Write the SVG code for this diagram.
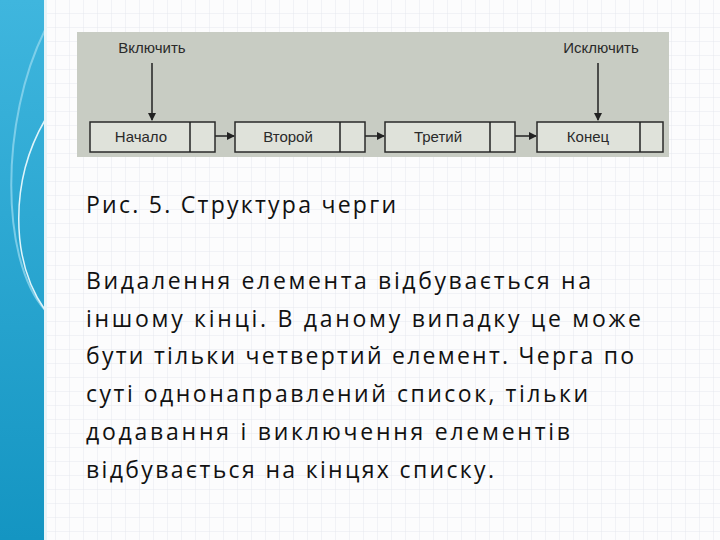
<svg xmlns="http://www.w3.org/2000/svg" width="720" height="540" viewBox="0 0 720 540">
<defs>
<pattern id="grid" width="14" height="14" patternUnits="userSpaceOnUse"><path d="M14 0V14H0" fill="none" stroke="#e6e9ee" stroke-width="1"/></pattern>
<linearGradient id="bar" x1="0" y1="0" x2="0" y2="1"><stop offset="0" stop-color="#3fb6de"/><stop offset="1" stop-color="#1495c2"/></linearGradient>
<marker id="ah" markerWidth="8" markerHeight="8" refX="7" refY="4" orient="auto" markerUnits="userSpaceOnUse"><path d="M0 0L8 4L0 8Z" fill="#222"/></marker>
<style>
.lbl{font-family:"Liberation Sans",Arial,sans-serif;font-size:15px;fill:#2a2a2a;text-anchor:middle}
.box{fill:#dfe2da;stroke:#2a2a2a;stroke-width:1.5}
.ln{stroke:#222;stroke-width:1.5;fill:none}
.body{font-family:"Open Sans",Lato,sans-serif;font-size:23px;fill:#111}
</style>
</defs>
<rect width="720" height="540" fill="#fcfcfd"/>
<rect width="720" height="540" fill="url(#grid)"/>
<rect x="0" y="0" width="45" height="540" fill="url(#bar)"/>
<path d="M45 30 C0 120 0 260 45 310" fill="none" stroke="#8fd6ee" stroke-width="2" opacity="0.8"/>
<path d="M45 120 C10 180 10 260 45 310" fill="none" stroke="#e0f5fb" stroke-width="1.5"/>
<rect x="44" y="0" width="3" height="540" fill="#e8f4f8"/>
<rect x="77" y="32" width="592" height="125" fill="#c8ccc3"/>
<g id="connectors">
<line class="ln" x1="152" y1="63" x2="152" y2="120" marker-end="url(#ah)"/>
<line class="ln" x1="598" y1="63" x2="598" y2="120" marker-end="url(#ah)"/>
<line class="ln" x1="203" y1="136" x2="234" y2="136" marker-end="url(#ah)"/>
<circle cx="203" cy="136" r="2.5" fill="#222"/>
<line class="ln" x1="352" y1="136" x2="384" y2="136" marker-end="url(#ah)"/>
<circle cx="352" cy="136" r="2.5" fill="#222"/>
<line class="ln" x1="502" y1="136" x2="536" y2="136" marker-end="url(#ah)"/>
<circle cx="502" cy="136" r="2.5" fill="#222"/>
</g>
<g id="vkl"><text class="lbl" x="152" y="53">Включить</text></g>
<g id="iskl"><text class="lbl" x="601" y="53">Исключить</text></g>
<g id="n1"><rect class="box" x="90" y="122" width="125" height="30"/><line class="ln" x1="190" y1="122" x2="190" y2="152"/><text class="lbl" x="141" y="142">Начало</text></g>
<g id="n2"><rect class="box" x="235" y="122" width="130" height="30"/><line class="ln" x1="340" y1="122" x2="340" y2="152"/><text class="lbl" x="288" y="142">Второй</text></g>
<g id="n3"><rect class="box" x="385" y="122" width="130" height="30"/><line class="ln" x1="490" y1="122" x2="490" y2="152"/><text class="lbl" x="438" y="142">Третий</text></g>
<g id="n4"><rect class="box" x="537" y="122" width="126" height="30"/><line class="ln" x1="640" y1="122" x2="640" y2="152"/><text class="lbl" x="588" y="142">Конец</text></g>
<text class="body" x="86" y="213" textLength="310" lengthAdjust="spacing">Рис. 5. Структура черги</text>
<text class="body" x="86" y="289" textLength="505" lengthAdjust="spacing">Видалення елемента відбувається на</text>
<text class="body" x="86" y="327" textLength="555" lengthAdjust="spacing">іншому кінці. В даному випадку це може</text>
<text class="body" x="86" y="364" textLength="548" lengthAdjust="spacing">бути тільки четвертий елемент. Черга по</text>
<text class="body" x="86" y="402" textLength="502" lengthAdjust="spacing">суті однонаправлений список, тільки</text>
<text class="body" x="86" y="440" textLength="484" lengthAdjust="spacing">додавання і виключення елементів</text>
<text class="body" x="86" y="478" textLength="408" lengthAdjust="spacing">відбувається на кінцях списку.</text>
</svg>
